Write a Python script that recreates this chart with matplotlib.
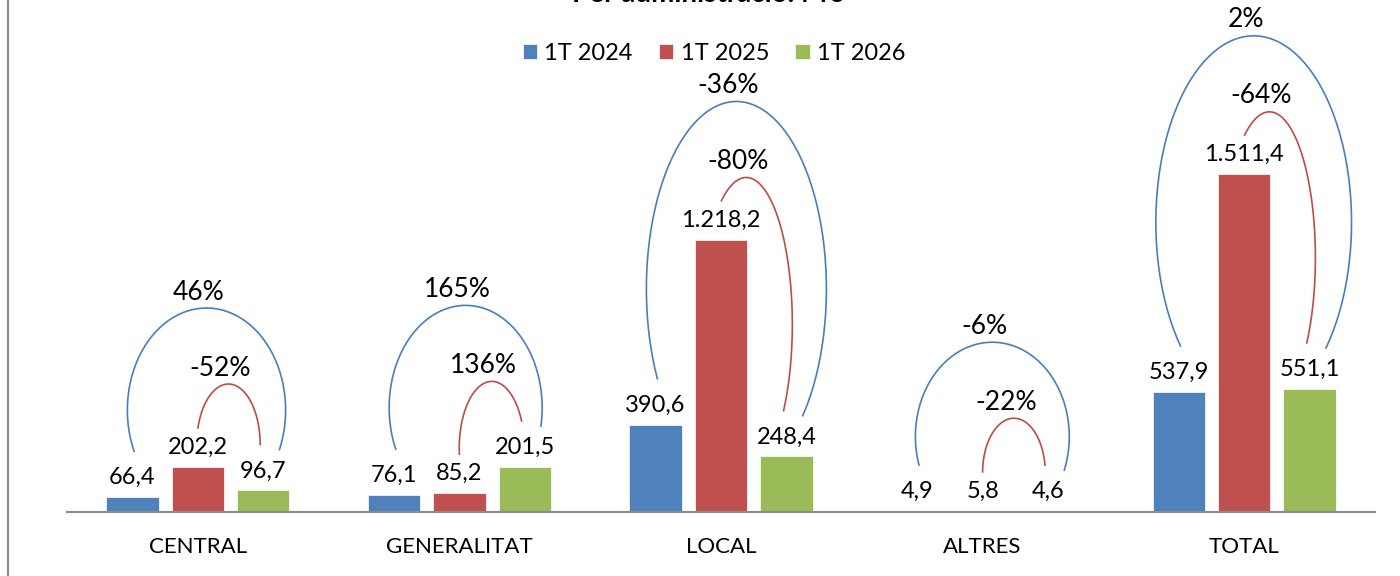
import numpy as np
import matplotlib.pyplot as plt
from matplotlib.lines import Line2D

plt.rcParams['font.family'] = ['Lato', 'DejaVu Sans']

categories = ['CENTRAL', 'GENERALITAT', 'LOCAL', 'ALTRES', 'TOTAL']
series = ['1T 2024', '1T 2025', '1T 2026']
v2024 = [66.4, 76.1, 390.6, 4.9, 537.9]
v2025 = [202.2, 85.2, 1218.2, 5.8, 1511.4]
v2026 = [96.7, 201.5, 248.4, 4.6, 551.1]
pct_26_24 = ['46%', '165%', '-36%', '-6%', '2%']
pct_26_25 = ['-52%', '136%', '-80%', '-22%', '-64%']
title = 'Per administració. M€'

colors = ['#4F81BD', '#C0504D', '#9BBB59']
arc_blue = '#4A7EBB'
arc_red = '#BE4B48'


def fmt(v):
    # catalan style: 1.511,4
    s = f'{v:,.1f}'
    return s.replace(',', ' ').replace('.', ',').replace(' ', '.')


W, H = 1400, 576
fig = plt.figure(figsize=(W / 100, H / 100), dpi=100, facecolor='white')
ax = fig.add_axes([67 / W, 64 / H, 1308 / W, 512 / H])
ymax = 2289
ax.set_xlim(-0.5, 4.5)
ax.set_ylim(0, ymax)

# pixels per data unit, used to size the annotation arcs
ppx = 1308 / 5
ppy = 512 / ymax

x = np.arange(len(categories))
width = 0.2
step = 0.25
for i, (vals, c, lab) in enumerate(zip([v2024, v2025, v2026], colors, series)):
    xs = x + (i - 1) * step
    ax.bar(xs, vals, width, color=c, label=lab, edgecolor='white', linewidth=0.5)
    for xi, v in zip(xs, vals):
        ax.annotate(fmt(v), (xi, v), xytext=(0, 14), textcoords='offset points',
                    ha='center', va='center', fontsize=17)


def arc(x0, y0, x1, y1, top, color):
    # elliptical arc through both ends, peak at top (pixel units, y up)
    h = top - min(y0, y1)
    b = min(h, 0.5 * h + 30)
    cy = top - b
    v0 = np.clip((y0 - cy) / b, -1, 1)
    v1 = np.clip((y1 - cy) / b, -1, 1)
    s0 = np.sqrt(1 - v0 ** 2)
    s1 = np.sqrt(1 - v1 ** 2)
    a = (x1 - x0) / (s0 + s1)
    cx = x0 + a * s0
    t = np.linspace(np.pi - np.arcsin(v0), np.arcsin(v1), 150)
    ax.plot((cx + a * np.cos(t)) / ppx, (cy + b * np.sin(t)) / ppy,
            color=color, lw=1.2, solid_capstyle='butt')
    return cx


for k in range(len(categories)):
    # red arc: 1T 2025 -> 1T 2026
    rx0, ry0 = x[k] * ppx, v2025[k] * ppy + 38
    rx1, ry1 = (x[k] + step) * ppx - 3, v2026[k] * ppy + 45
    rtop = max(ry0, ry1) + 22 + 28 * np.exp(-abs(ry0 - ry1) / 80)
    rcx = arc(rx0, ry0, rx1, ry1, rtop, arc_red)
    ax.text((rcx - 8) / ppx, (rtop + 16) / ppy, pct_26_25[k],
            ha='center', va='center', fontsize=19)

    # blue arc: 1T 2024 -> 1T 2026
    bx0, by0 = (x[k] - step) * ppx + 2, v2024[k] * ppy + 45
    bx1, by1 = (x[k] + step) * ppx + 16, v2026[k] * ppy + 40
    btop = max(rtop + 76, max(by0, by1) + 60)
    bcx = arc(bx0, by0, bx1, by1, btop, arc_blue)
    ax.text((bcx - 8) / ppx, (btop + 16) / ppy, pct_26_24[k],
            ha='center', va='center', fontsize=19)

for side in ['left', 'right', 'top']:
    ax.spines[side].set_visible(False)
ax.spines['bottom'].set_color('#8C8C8C')
ax.spines['bottom'].set_linewidth(1.5)
ax.set_yticks([])
ax.set_xticks(x, categories, fontsize=16)
ax.tick_params(axis='x', length=0, pad=18)

ax.legend(loc='center', bbox_to_anchor=(714 / W, 1 - 53 / H), bbox_transform=fig.transFigure,
          ncol=3, frameon=False, handlelength=0.62, handleheight=0.62,
          columnspacing=1.1, handletextpad=0.3, fontsize=17)

fig.text(708 / W, 1 - 2 / H, title, ha='center', va='baseline', fontsize=20, fontweight='bold')
fig.add_artist(Line2D([7.5 / W, 7.5 / W], [0, 1], color='#8C8C8C', lw=1.5))

fig.savefig('out.png', dpi=100, facecolor='white')
